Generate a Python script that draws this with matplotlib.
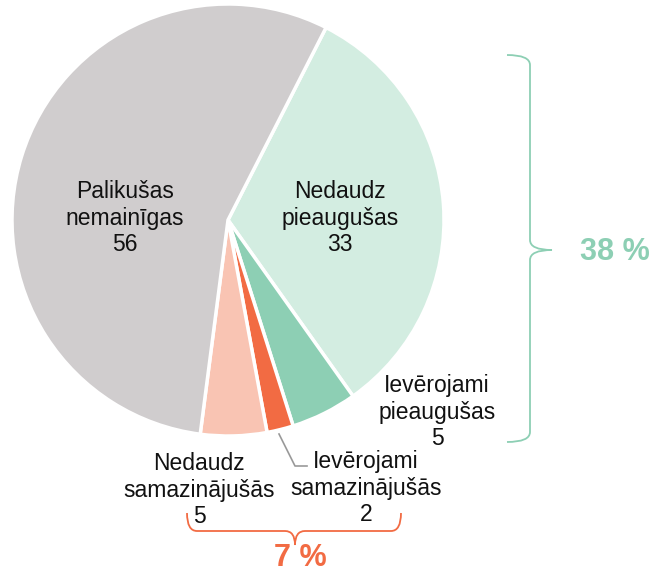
import numpy as np
import matplotlib.pyplot as plt
from matplotlib.path import Path
from matplotlib.patches import PathPatch

plt.rcParams['font.family'] = ['Liberation Sans', 'DejaVu Sans']

# data, clockwise from the top
labels = ['Nedaudz\npieaugušas', 'Ievērojami\npieaugušas', 'Ievērojami\nsamazinājušās',
          'Nedaudz\nsamazinājušās', 'Palikušas\nnemainīgas']
values = [33, 5, 2, 5, 56]
colors = ['#d3ede1', '#8dcfb4', '#f26b43', '#f9c4b3', '#d0cdce']
up_share = '38 %'
down_share = '7 %'

W, H = 654, 574
fig = plt.figure(figsize=(W / 100, H / 100), dpi=100)
ax = fig.add_axes([0, 0, 1, 1])

def Y(y):
    return H - y

cx, cy, r = 228, 220, 216
ax.pie(values, colors=colors, startangle=63, counterclock=False,
       center=(cx, Y(cy)), radius=r, frame=True,
       wedgeprops=dict(edgecolor='white', linewidth=2.5))
ax.set_xlim(0, W)
ax.set_ylim(0, H)
ax.set_aspect('equal')
ax.axis('off')

# label positions (pixel coords)
pos = [(340, 218), (437, 412), (366, 488), (199, 490), (125, 218)]
for lab, v, (x, y) in zip(labels, values, pos):
    ax.text(x, Y(y), lab + '\n' + str(v), ha='center', va='center',
            fontsize=16.5, linespacing=1.2, color='#111111')

# leader line for the small slice
ax.plot([279, 295, 307], [Y(434), Y(466), Y(466)], color='#999999', lw=1.2)

def brace_path(pts):
    verts, codes = [pts[0]], [Path.MOVETO]
    for seg in pts[1:]:
        if len(seg) == 2 and isinstance(seg[0], tuple):
            verts += [seg[0], seg[1]]
            codes += [Path.CURVE3, Path.CURVE3]
        else:
            verts.append(seg)
            codes.append(Path.LINETO)
    return Path(verts, codes)

green = '#8dcfb4'
p = brace_path([(507, Y(55)), ((530, Y(55)), (530, Y(65))), (530, Y(240)),
                ((530, Y(250)), (552, Y(250))), ((530, Y(250)), (530, Y(260))),
                (530, Y(432)), ((530, Y(442)), (507, Y(442)))])
ax.add_patch(PathPatch(p, fc='none', ec=green, lw=1.3))
ax.text(615, Y(252), up_share, ha='center', va='center', fontsize=22,
        fontweight='bold', color=green)

orange = '#f26b43'
p = brace_path([(187, Y(513)), ((187, Y(531)), (197, Y(531))), (285, Y(531)),
                ((295, Y(531)), (295, Y(545))), ((295, Y(531)), (305, Y(531))),
                (391, Y(531)), ((401, Y(531)), (401, Y(513)))])
ax.add_patch(PathPatch(p, fc='none', ec=orange, lw=1.3))
ax.text(300, Y(558), down_share, ha='center', va='center', fontsize=22,
        fontweight='bold', color=orange)

fig.savefig('out.png', dpi=100)
